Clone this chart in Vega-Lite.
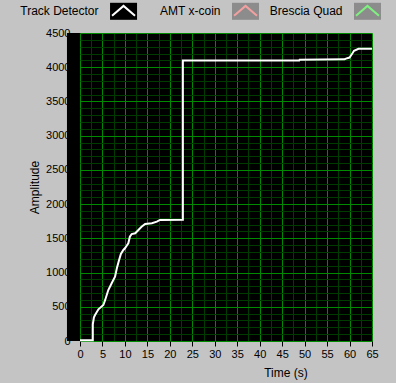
{
  "$schema": "https://vega.github.io/schema/vega-lite/v6.json",
  "width": 292,
  "height": 308,
  "autosize": {"type": "none"},
  "padding": {"left": 80, "top": 33, "right": 24, "bottom": 42},
  "background": "#c4c4c4",
  "config": {
    "view": {"fill": "#000000", "stroke": null},
    "font": "Liberation Sans",
    "axis": {"labelFont": "Liberation Sans", "titleFont": "Liberation Sans", "labelColor": "#000000", "titleColor": "#000000", "titleFontWeight": "normal", "labelFontSize": 11, "titleFontSize": 12, "zindex": 0}
  },
  "layer": [
    {
      "data": {"values": [{}]},
      "mark": {"type": "rect", "color": "#000000"},
      "encoding": {
        "x": {"datum": -2.9, "type": "quantitative", "scale": {"domain": [0, 65], "nice": false, "zero": false}, "axis": null},
        "x2": {"datum": 0},
        "y": {"datum": 0, "type": "quantitative", "scale": {"domain": [0, 4500], "nice": false}, "axis": null},
        "y2": {"datum": 4500}
      }
    },
    {
      "data": {"values": [
        {"i": 0, "t": 0, "v": 10}, {"i": 1, "t": 2.85, "v": 10}, {"i": 2, "t": 2.85, "v": 244},
        {"i": 3, "t": 3.1, "v": 346}, {"i": 4, "t": 3.35, "v": 380}, {"i": 5, "t": 4.1, "v": 463},
        {"i": 6, "t": 5.2, "v": 526}, {"i": 7, "t": 5.6, "v": 600}, {"i": 8, "t": 6.3, "v": 745},
        {"i": 9, "t": 7.05, "v": 843}, {"i": 10, "t": 7.8, "v": 940}, {"i": 11, "t": 8.2, "v": 1062},
        {"i": 12, "t": 8.7, "v": 1184}, {"i": 13, "t": 9.1, "v": 1272}, {"i": 14, "t": 9.65, "v": 1330},
        {"i": 15, "t": 10.0, "v": 1355}, {"i": 16, "t": 10.5, "v": 1403}, {"i": 17, "t": 10.76, "v": 1427},
        {"i": 18, "t": 11.1, "v": 1524}, {"i": 19, "t": 11.5, "v": 1563}, {"i": 20, "t": 12.3, "v": 1574},
        {"i": 21, "t": 13.0, "v": 1622}, {"i": 22, "t": 13.7, "v": 1670}, {"i": 23, "t": 14.5, "v": 1710},
        {"i": 24, "t": 16.0, "v": 1720}, {"i": 25, "t": 17.1, "v": 1743}, {"i": 26, "t": 17.8, "v": 1768},
        {"i": 27, "t": 22.9, "v": 1770}, {"i": 28, "t": 22.9, "v": 4100}, {"i": 29, "t": 48.8, "v": 4100},
        {"i": 30, "t": 48.9, "v": 4110}, {"i": 31, "t": 58.9, "v": 4115}, {"i": 32, "t": 59.2, "v": 4125},
        {"i": 33, "t": 60.0, "v": 4141}, {"i": 34, "t": 60.5, "v": 4190}, {"i": 35, "t": 61.0, "v": 4240},
        {"i": 36, "t": 62.0, "v": 4269}, {"i": 37, "t": 65, "v": 4270}
      ]},
      "mark": {"type": "line", "color": "#ffffff", "strokeWidth": 2},
      "encoding": {
        "order": {"field": "i", "type": "quantitative"},
        "x": {
          "field": "t", "type": "quantitative",
          "scale": {"domain": [0, 65], "nice": false, "zero": false},
          "axis": {
            "title": "Time (s)",
            "values": [0, 2.5, 5, 7.5, 10, 12.5, 15, 17.5, 20, 22.5, 25, 27.5, 30, 32.5, 35, 37.5, 40, 42.5, 45, 47.5, 50, 52.5, 55, 57.5, 60, 62.5, 65],
            "format": "d",
            "labelExpr": "datum.value % 5 === 0 ? datum.label : ''",
            "labelOverlap": false,
            "labelFlush": false,
            "labelPadding": 2,
            "domain": false,
            "tickSize": 5,
            "tickColor": "#000000",
            "tickOpacity": {"condition": {"test": "datum.value % 5 === 0", "value": 1}, "value": 0},
            "grid": true,
            "gridColor": {"condition": {"test": "datum.value % 5 === 0", "value": "#008a00"}, "value": "#003c00"},
            "gridOpacity": 1,
            "titleX": 205.5,
            "titleY": 35,
            "titleAlign": "center",
            "titleBaseline": "alphabetic"
          }
        },
        "y": {
          "field": "v", "type": "quantitative",
          "scale": {"domain": [0, 4500], "nice": false},
          "axis": {
            "title": "Amplitude",
            "values": [0, 100, 200, 300, 400, 500, 600, 700, 800, 900, 1000, 1100, 1200, 1300, 1400, 1500, 1600, 1700, 1800, 1900, 2000, 2100, 2200, 2300, 2400, 2500, 2600, 2700, 2800, 2900, 3000, 3100, 3200, 3300, 3400, 3500, 3600, 3700, 3800, 3900, 4000, 4100, 4200, 4300, 4400, 4500],
            "format": "d",
            "labelExpr": "datum.value % 500 === 0 ? datum.label : ''",
            "labelOverlap": false,
            "labelFlush": false,
            "labelPadding": 10,
            "ticks": false,
            "domain": false,
            "grid": true,
            "gridColor": {"condition": {"test": "datum.value % 500 === 0", "value": "#008a00"}, "value": "#003c00"},
            "gridOpacity": 1,
            "titlePadding": 4
          }
        }
      }
    },
    {
      "data": {"values": [{"series": "Track Detector"}, {"series": "AMT x-coin"}, {"series": "Brescia Quad"}]},
      "encoding": {
        "x": {"field": "series", "type": "nominal", "axis": null,
              "scale": {"type": "point", "domain": ["Track Detector", "AMT x-coin", "Brescia Quad"], "padding": 0.197, "align": 0.906}},
        "y": {"datum": 4817, "type": "quantitative", "scale": {"domain": [0, 4500], "nice": false}, "axis": null}
      },
      "layer": [
        {
          "mark": {"type": "point", "shape": "M-1,-0.63H1V0.63H-1Z", "size": 729, "filled": true, "opacity": 1, "strokeWidth": 0},
          "encoding": {
            "fill": {"field": "series", "type": "nominal", "legend": null,
                     "scale": {"domain": ["Track Detector", "AMT x-coin", "Brescia Quad"], "range": ["#000000", "#8c8c8c", "#8c8c8c"]}}
          }
        },
        {
          "mark": {"type": "point", "shape": "M-0.85,0.33L0,-0.4L0.85,0.33", "size": 729, "filled": false, "opacity": 1, "strokeWidth": 2},
          "encoding": {
            "stroke": {"field": "series", "type": "nominal", "legend": null,
                       "scale": {"domain": ["Track Detector", "AMT x-coin", "Brescia Quad"], "range": ["#ffffff", "#f2a0a0", "#80f080"]}}
          }
        },
        {
          "mark": {"type": "text", "align": "right", "baseline": "middle", "dx": -25, "fontSize": 12, "font": "Liberation Sans", "color": "#000000"},
          "encoding": {"text": {"field": "series", "type": "nominal"}}
        }
      ]
    }
  ],
  "resolve": {"scale": {"x": "independent", "y": "independent"}}
}
